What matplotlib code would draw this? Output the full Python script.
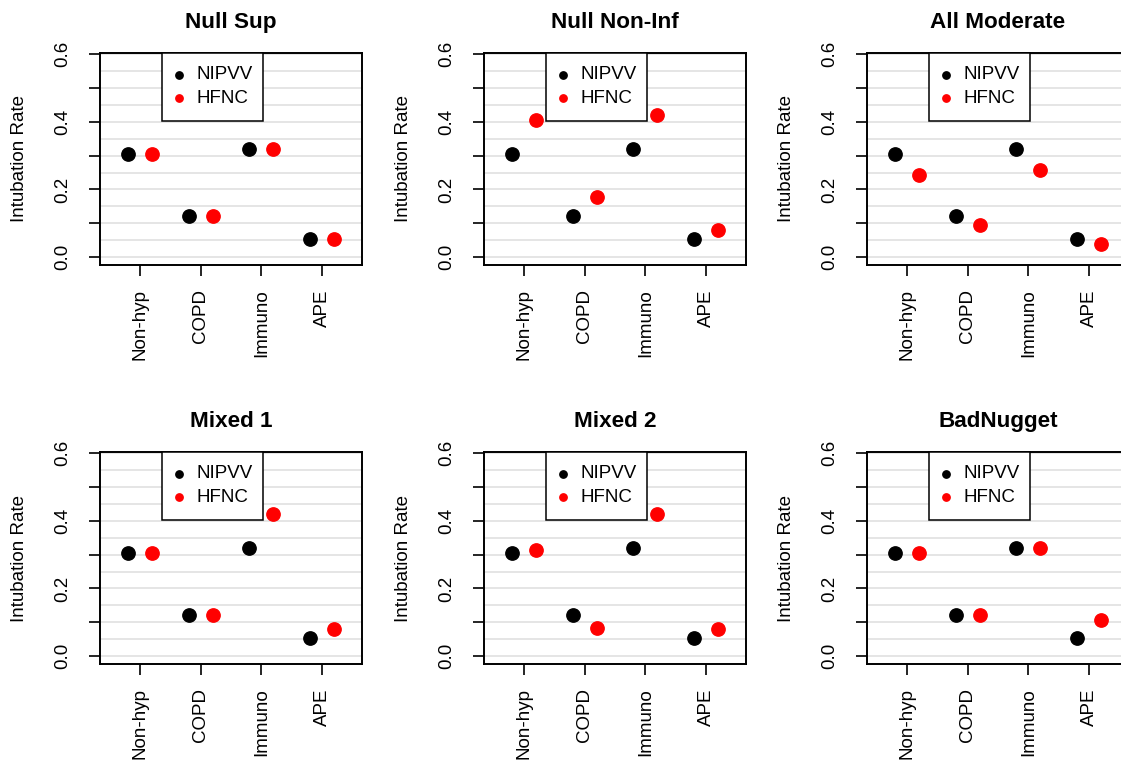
import matplotlib
matplotlib.use("Agg")
import matplotlib.pyplot as plt
from matplotlib.patches import Rectangle
import numpy as np

plt.rcParams['font.family'] = ['Liberation Sans', 'DejaVu Sans']

# data
categories = ['Non-hyp', 'COPD', 'Immuno', 'APE']
titles = ['Null Sup', 'Null Non-Inf', 'All Moderate', 'Mixed 1', 'Mixed 2', 'BadNugget']
nipvv = [0.304, 0.122, 0.319, 0.055]
hfnc_null_sup = [0.304, 0.122, 0.319, 0.055]
hfnc_null_noninf = [0.406, 0.178, 0.421, 0.081]
hfnc_all_moderate = [0.243, 0.094, 0.257, 0.040]
hfnc_mixed1 = [0.304, 0.122, 0.421, 0.080]
hfnc_mixed2 = [0.314, 0.084, 0.421, 0.081]
hfnc_badnugget = [0.304, 0.122, 0.319, 0.107]
hfnc_all = [hfnc_null_sup, hfnc_null_noninf, hfnc_all_moderate,
            hfnc_mixed1, hfnc_mixed2, hfnc_badnugget]

W, H = 1121, 763
fig = plt.figure(figsize=(W / 100, H / 100), dpi=100)

lefts = [100, 484, 867]   # pixel positions of the panel boxes
tops = [53, 452]
aw, ah = 262, 212
fs = 13.5
x = np.arange(1, len(categories) + 1)

for i, (name, hfnc) in enumerate(zip(titles, hfnc_all)):
    r, c = divmod(i, 3)
    ax = fig.add_axes([lefts[c] / W, 1 - (tops[r] + ah) / H, aw / W, ah / H])

    for g in np.arange(0, 0.61, 0.05):
        ax.axhline(g, color='#E3E3E3', lw=1.3, zorder=0)

    ax.plot(x - 0.2, nipvv, 'o', color='black', ms=9.6, zorder=3)
    ax.plot(x + 0.2, hfnc, 'o', color='#FF0000', ms=9.6, zorder=3)

    ax.set_xlim(0.34, 4.66)
    ax.set_ylim(-0.023, 0.603)
    ax.set_xticks(x)
    ax.set_xticklabels(categories, rotation=90, fontsize=fs)
    ax.set_yticks(np.arange(0, 0.61, 0.1))
    ax.set_yticklabels(['0.0', '', '0.2', '', '0.4', '', '0.6'], rotation=90,
                       fontsize=fs, va='center')
    ax.tick_params(axis='x', length=8, width=1.2, pad=9.6)
    ax.tick_params(axis='y', length=8, width=1.2, pad=12.5)
    for s in ax.spines.values():
        s.set_linewidth(1.4)

    ax.set_ylabel('Intubation Rate', fontsize=fs, va='center')
    ax.yaxis.set_label_coords(-81 / aw, 0.5)
    ax.set_title(name, fontsize=16.2, fontweight='bold', pad=18)

    # legend box, drawn by hand to match the R look
    ax.add_patch(Rectangle((0.235, 0.677), 0.388, 0.323, transform=ax.transAxes,
                           facecolor='white', edgecolor='black', lw=1.1,
                           zorder=4, clip_on=False))
    for ly, col, lab in [(0.898, 'black', 'NIPVV'), (0.787, '#FF0000', 'HFNC')]:
        ax.plot([0.301], [ly], 'o', color=col, ms=5.3, transform=ax.transAxes,
                zorder=5, clip_on=False)
        ax.text(0.368, ly, lab, transform=ax.transAxes, fontsize=fs,
                va='center', ha='left', zorder=5)

fig.savefig('out.png', dpi=100)
